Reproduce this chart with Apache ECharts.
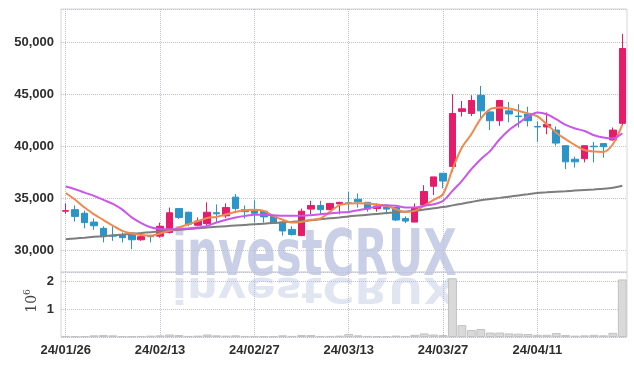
<!DOCTYPE html>
<html><head><meta charset="utf-8">
<script src="https://cdn.jsdelivr.net/npm/echarts@6/dist/echarts.min.js"></script>
<style>html,body{margin:0;padding:0;background:#fff}#c{width:634px;height:366px}</style>
</head><body><div id="c"></div>
<script>
const dates = ['24/01/26','24/01/29','24/01/30','24/01/31','24/02/01','24/02/02','24/02/05','24/02/06','24/02/07','24/02/08',
'24/02/13','24/02/14','24/02/15','24/02/16','24/02/19','24/02/20','24/02/21','24/02/22','24/02/23','24/02/26',
'24/02/27','24/02/28','24/02/29','24/03/04','24/03/05','24/03/06','24/03/07','24/03/08','24/03/11','24/03/12',
'24/03/13','24/03/14','24/03/15','24/03/18','24/03/19','24/03/20','24/03/21','24/03/22','24/03/25','24/03/26',
'24/03/27','24/03/28','24/03/29','24/04/01','24/04/02','24/04/03','24/04/04','24/04/05','24/04/08','24/04/09',
'24/04/11','24/04/12','24/04/15','24/04/16','24/04/17','24/04/18','24/04/19','24/04/22','24/04/23','24/04/24'];
const opens = [33750,33900,33550,32700,32100,31400,31400,31650,31000,31350,
31350,31700,34000,33650,32400,32550,33600,33300,35100,33900,
33800,33750,33250,32700,32000,31400,33950,34300,33900,34450,
34550,34900,34600,34000,34150,34100,33050,32700,34350,36150,
37400,38050,43350,43150,44900,43300,42450,43400,42900,43100,
41900,41850,41550,40050,38750,38800,40000,40250,40600,42200];
const closes = [33800,33250,32650,32350,31300,31350,31200,31000,31300,31300,
32300,33600,33150,32500,32800,33650,33500,34100,34000,33700,
33550,33200,32600,31850,31500,33750,34300,33900,34500,34600,
34500,34650,33950,34250,33950,32900,32800,34100,35650,37050,
36650,43150,43600,44400,43400,42450,44400,43100,42850,42450,
41850,42100,40300,38500,38500,40050,39950,39950,41550,49400];
const lows = [33500,32750,32100,31950,30750,30900,30750,30100,30900,30750,
31200,31600,33000,32300,32300,32400,32700,33100,33800,33050,
32650,32650,32550,31400,31400,31350,33450,33450,33850,33450,
33800,34100,33700,33700,33450,32800,32600,32700,34350,35300,
35950,37550,42850,42900,42600,41550,41950,42300,41800,41900,
40400,41150,40050,37800,37950,38450,38450,38900,40550,41950];
const highs = [34500,34300,33800,33050,32300,32300,31700,31700,31450,31500,
32650,34100,34000,33700,33150,34600,34400,34500,35400,34300,
34800,33800,33250,32750,32300,34000,34750,34750,34500,34650,
35600,35450,34600,34500,34400,34150,33250,34500,36250,37050,
37400,45000,44350,44900,45800,43350,44450,44250,44050,43800,
42350,43250,41900,40050,39000,40050,40400,40250,41800,50800];
const volumes = [40000,30000,30000,60000,70000,60000,30000,25000,40000,50000,
60000,90000,70000,40000,50000,90000,60000,50000,60000,40000,
40000,30000,30000,60000,40000,70000,70000,40000,40000,50000,
110000,60000,40000,30000,30000,50000,40000,80000,130000,90000,
70000,2120000,430000,250000,290000,160000,160000,130000,120000,110000,
80000,80000,140000,70000,50000,60000,80000,60000,150000,2080000];
const ma5 = [35500,34850,34100,33450,32900,32350,31850,31600,31450,31380,
31600,31870,32180,32500,32780,33100,33200,33450,33680,33850,
33880,33780,33300,32920,32660,32720,32920,33050,33680,34330,
34500,34520,34490,34390,34270,33940,33680,33780,34270,34840,
35390,37790,39870,41150,42650,43560,43720,43620,43400,43160,
42870,42110,41300,40670,40100,39640,39490,39450,40190,42050];
const ma10 = [36120,35860,35540,35220,34840,34450,33900,33150,32600,32200,
32030,32010,32020,32090,32180,32340,32660,32920,33140,33300,
33400,33400,33370,33300,33300,33300,33370,33460,33530,33620,
33680,33850,34010,34200,34330,34270,34110,34110,34270,34420,
34740,35700,36670,37790,38750,39550,40670,41570,42210,42860,
43240,43080,42600,42050,41700,41470,41060,40840,40740,41250];
const maLong = [31050,31130,31200,31280,31350,31430,31500,31580,31650,31730,
31810,31880,31960,32030,32110,32190,32250,32310,32370,32430,
32490,32550,32610,32670,32730,32800,32880,32970,33060,33150,
33250,33330,33410,33490,33570,33650,33720,33800,33910,34030,
34150,34310,34470,34640,34800,34920,35030,35150,35270,35380,
35500,35560,35620,35670,35730,35790,35840,35900,36000,36200];

const FONT = '"Liberation Sans",Arial,sans-serif';
const UP = '#e61c6b', DOWN = '#2b94c8';
const gridLine = {show:true, lineStyle:{type:'dotted', color:'#bfc0d4', width:1}};
const labelStyle = {color:'#2e2e2e', fontSize:13, fontWeight:'bold', fontFamily:FONT};
const WM_FONT = 'bold 64px "DejaVu Sans",sans-serif';

const chart = echarts.init(document.getElementById('c'));
chart.setOption({
  animation:false,
  backgroundColor:'#fff',
  grid:[
    {left:61, right:7, top:9, height:263, show:true, borderColor:'#d6d6d6', borderWidth:1},
    {left:61, right:7, top:272, height:65, show:true, borderColor:'#d6d6d6', borderWidth:1}
  ],
  graphic:[
    {type:'text', x:172, y:226, scaleX:0.68, z:0, silent:true,
     style:{text:'investCRUX', x:0, y:0, verticalAlign:'top', align:'left', fill:'#c9cfe6', font:WM_FONT}},
    {type:'text', x:172, y:277, scaleX:0.68, scaleY:-0.55, z:0, silent:true,
     style:{text:'investCRUX', x:0, y:13, verticalAlign:'bottom', align:'left', fill:'rgba(201,207,230,0.55)', font:WM_FONT}},
    {type:'text', x:32, y:301, rotation:Math.PI/2, z:10, silent:true,
     style:{text:'{a|10}{b|6}', align:'center', verticalAlign:'middle',
       rich:{a:{fontSize:14, fontFamily:'"DejaVu Serif",serif', fill:'#444'}, b:{fontSize:9, fontFamily:'"DejaVu Serif",serif', fill:'#444', padding:[0,0,8,0]}}}}
  ],
  xAxis:[
    {type:'category', data:dates, gridIndex:0, boundaryGap:true,
     axisLine:{show:false}, axisTick:{show:false}, axisLabel:{show:false},
     splitLine:Object.assign({interval:9, alignWithLabel:true}, gridLine)},
    {type:'category', data:dates, gridIndex:1, boundaryGap:true,
     axisLine:{show:false}, axisTick:{show:false},
     axisLabel:Object.assign({interval:9, margin:7}, labelStyle),
     splitLine:Object.assign({interval:9, alignWithLabel:true}, gridLine)}
  ],
  yAxis:[
    {type:'value', gridIndex:0, min:27900, max:53200, splitNumber:5, scale:true,
     axisLine:{show:false}, axisTick:{show:false},
     axisLabel:Object.assign({showMinLabel:false, showMaxLabel:false, margin:7,
       formatter:v=>v.toLocaleString('en-US')}, labelStyle),
     splitLine:gridLine},
    {type:'value', gridIndex:1, min:0, max:2350000, interval:1000000,
     axisLine:{show:false}, axisTick:{show:false},
     axisLabel:Object.assign({showMaxLabel:false, margin:7,
       formatter:v=>v===0?'':String(v/1e6)}, labelStyle),
     splitLine:gridLine}
  ],
  series:[
    {type:'candlestick', xAxisIndex:0, yAxisIndex:0, barWidth:7,
     data:dates.map((d,i)=>[opens[i],closes[i],lows[i],highs[i]]),
     itemStyle:{color:UP, color0:DOWN, borderColor:UP, borderColor0:DOWN, borderWidth:1}},
    {type:'line', xAxisIndex:0, yAxisIndex:0, data:maLong, showSymbol:false, smooth:0.3,
     lineStyle:{color:'#7d7d7d', width:2}},
    {type:'line', xAxisIndex:0, yAxisIndex:0, data:ma5, showSymbol:false, smooth:0.3,
     lineStyle:{color:'#f0894c', width:2}},
    {type:'line', xAxisIndex:0, yAxisIndex:0, data:ma10, showSymbol:false, smooth:0.3,
     lineStyle:{color:'#c957ea', width:2}},
    {type:'bar', xAxisIndex:1, yAxisIndex:1, data:volumes, barCategoryGap:'6%',
     itemStyle:{color:'#d9d9d9', borderColor:'#c2c2c2', borderWidth:1}}
  ]
});
</script></body></html>
